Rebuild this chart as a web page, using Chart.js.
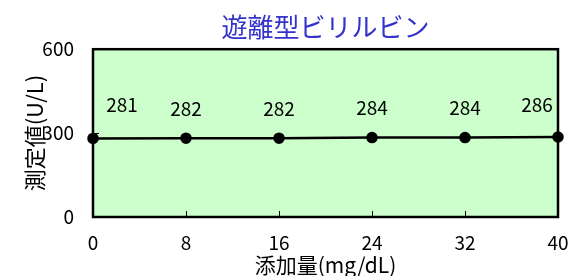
<!DOCTYPE html>
<html>
<head>
<meta charset="utf-8">
<script src="https://cdn.jsdelivr.net/npm/chart.js@4"></script>
<style>
  html, body { margin: 0; padding: 0; background: #fff; }
  #wrap { width: 571px; height: 276px; }
</style>
</head>
<body>
<div id="wrap"><canvas id="c"></canvas></div>
<script>
// データ
const addAmounts = [0, 8, 16, 24, 32, 40];
const measured = [281, 282, 282, 284, 284, 286];
const xTicks = [0, 8, 16, 24, 32, 40];
const yTicks = [0, 300, 600];

const FONT = "'Noto Sans CJK JP', 'Noto Sans', sans-serif";

// 背景・枠・内向き目盛り・データラベル
const plotDecor = {
    id: 'plotDecor',
    beforeDatasetsDraw(chart) {
        const a = chart.chartArea;
        const ctx = chart.ctx;
        ctx.save();
        ctx.fillStyle = '#ccffcc';
        ctx.fillRect(a.left, a.top, a.right - a.left, a.bottom - a.top);
        ctx.strokeStyle = '#000';
        ctx.lineWidth = 1;
        // x の内向き目盛り
        const xs = chart.scales.x;
        xs.ticks.forEach(t => {
            if (t.value === xs.min || t.value === xs.max) return;
            const px = Math.round(xs.getPixelForValue(t.value)) + 0.5;
            ctx.beginPath();
            ctx.moveTo(px, a.bottom);
            ctx.lineTo(px, a.bottom - 6);
            ctx.stroke();
        });
        const ys = chart.scales.y;
        ys.ticks.forEach(t => {
            if (t.value === ys.min || t.value === ys.max) return;
            const py = Math.round(ys.getPixelForValue(t.value)) + 0.5;
            ctx.beginPath();
            ctx.moveTo(a.left, py);
            ctx.lineTo(a.left + 6, py);
            ctx.stroke();
        });
        ctx.lineWidth = 2.5;
        ctx.strokeRect(a.left, a.top, a.right - a.left, a.bottom - a.top);
        ctx.restore();
    },
    afterDatasetsDraw(chart) {
        const ctx = chart.ctx;
        const meta = chart.getDatasetMeta(0);
        // ラベルの位置ずらし (px)
        const offsets = [[29, -34], [0, -29], [0, -29], [0, -30], [0, -30], [-21, -32]];
        ctx.save();
        ctx.fillStyle = '#000';
        ctx.font = '19px ' + FONT;
        ctx.textAlign = 'center';
        ctx.textBaseline = 'middle';
        meta.data.forEach((pt, i) => {
            const o = offsets[i] || [0, -30];
            ctx.fillText(String(measured[i]), pt.x + o[0], pt.y + o[1]);
        });
        ctx.restore();
    }
};

const ctx = document.getElementById('c').getContext('2d');
new Chart(ctx, {
    type: 'line',
    data: {
        datasets: [{
            label: '測定値',
            data: addAmounts.map((x, i) => ({ x: x, y: measured[i] })),
            borderColor: '#000',
            borderWidth: 2.5,
            pointBackgroundColor: '#000',
            pointBorderColor: '#000',
            pointRadius: 4.5,
            tension: 0,
            clip: false
        }]
    },
    options: {
        responsive: true,
        maintainAspectRatio: false,
        animation: false,
        layout: { padding: 0 },
        plugins: {
            legend: { display: false },
            tooltip: { enabled: false },
            title: {
                display: true,
                fullSize: false,
                text: '遊離型ビリルビン',
                color: '#3333cc',
                font: { family: FONT, size: 26, weight: 'normal', lineHeight: 1.2 },
                padding: { top: 12, bottom: 6 }
            }
        },
        scales: {
            x: {
                type: 'linear',
                min: 0,
                max: 40,
                afterBuildTicks: s => { s.ticks = xTicks.map(v => ({ value: v })); },
                afterFit: s => { s.height = 59; s.paddingLeft = 0; s.paddingRight = 13; },
                grid: { display: false, drawTicks: false },
                border: { display: false },
                ticks: { color: '#000', padding: 14, font: { family: FONT, size: 19 } },
                title: {
                    display: true,
                    text: '添加量(mg/dL)',
                    color: '#000',
                    font: { family: FONT, size: 21, lineHeight: 1 },
                    padding: 0
                }
            },
            y: {
                min: 0,
                max: 600,
                afterBuildTicks: s => { s.ticks = yTicks.map(v => ({ value: v })); },
                afterFit: s => { s.width = 93; },
                grid: { display: false, drawTicks: false },
                border: { display: false },
                ticks: { color: '#000', padding: 19, font: { family: FONT, size: 19 } },
                title: {
                    display: true,
                    text: '測定値(U/L)',
                    color: '#000',
                    font: { family: FONT, size: 22, lineHeight: 1.2 },
                    padding: { top: 21, bottom: 0 }
                }
            }
        }
    },
    plugins: [plotDecor]
});
</script>
</body>
</html>
